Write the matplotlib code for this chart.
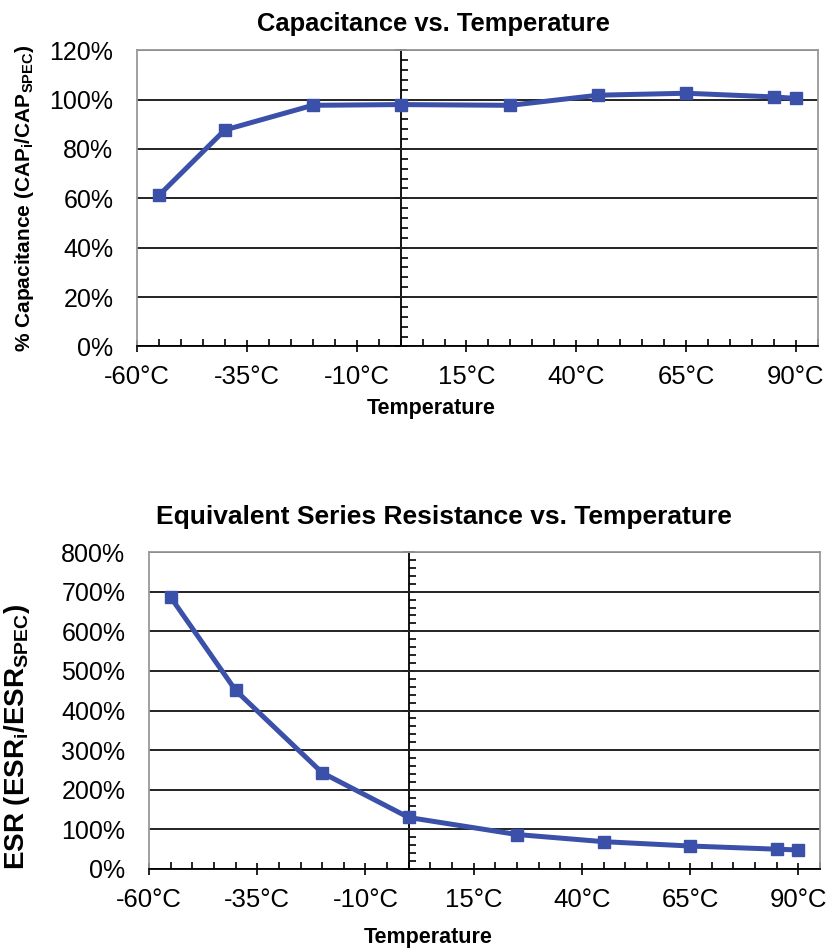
import matplotlib
matplotlib.use("Agg")
import matplotlib.pyplot as plt
from matplotlib.ticker import MultipleLocator, FuncFormatter

plt.rcParams["font.family"] = ["Liberation Sans", "DejaVu Sans"]
plt.rcParams["mathtext.fontset"] = "custom"
plt.rcParams["mathtext.rm"] = "Liberation Sans:bold"
plt.rcParams["mathtext.default"] = "rm"

# data
temps = [-55, -40, -20, 0, 25, 45, 65, 85, 90]
cap_pct = [61.2, 87.7, 97.7, 98.0, 97.7, 101.8, 102.6, 101.1, 100.5]
esr_pct = [686, 451, 243, 130, 87, 69, 58, 50, 48]

x_ticks = [-60, -35, -10, 15, 40, 65, 90]

LINE_COLOR = "#3B50A8"


def style_axis(ax, ymax, ystep, yminor):
    ax.set_xlim(-60, 95)
    ax.set_ylim(0, ymax)
    ax.set_xticks(x_ticks)
    ax.xaxis.set_minor_locator(MultipleLocator(5))
    ax.xaxis.set_major_formatter(FuncFormatter(lambda v, p: f"{v:.0f}°C"))
    ax.yaxis.set_major_locator(MultipleLocator(ystep))
    ax.yaxis.set_major_formatter(FuncFormatter(lambda v, p: f"{v:.0f}%"))
    ax.grid(axis="y", color="#222222", linewidth=1.4)
    ax.set_axisbelow(True)

    for side in ["left", "right", "top"]:
        ax.spines[side].set_color("#999999")
        ax.spines[side].set_linewidth(1.3)
    ax.spines["bottom"].set_color("black")
    ax.spines["bottom"].set_linewidth(1.3)

    ax.tick_params(axis="y", length=0, pad=17, labelsize=18)
    ax.tick_params(axis="x", which="major", direction="inout", length=9,
                   width=1.2, labelsize=18.5, pad=9)
    ax.tick_params(axis="x", which="minor", direction="in", length=5, width=1.2)

    # value axis crossing at 0 degC, like the spreadsheet original
    sec = ax.secondary_yaxis(0, transform=ax.transData)
    sec.spines["left"].set_color("black")
    sec.spines["left"].set_linewidth(1.3)
    sec.yaxis.set_major_locator(MultipleLocator(ystep))
    sec.yaxis.set_minor_locator(MultipleLocator(yminor))
    sec.tick_params(axis="y", which="major", direction="inout", length=9,
                    width=1.2, labelleft=False)
    sec.tick_params(axis="y", which="minor", direction="in", length=5,
                    width=1.2)


fig = plt.figure(figsize=(8.3, 9.49), dpi=100)

ax1 = fig.add_axes([0.165, 0.635, 0.8205, 0.312])
ax1.plot(temps, cap_pct, color=LINE_COLOR, linewidth=3.6, marker="s",
         markersize=8.5, zorder=5, clip_on=False)
style_axis(ax1, 120, 20, 4)
ax1.set_title("Capacitance vs. Temperature", fontsize=18.4,
              fontweight="bold", pad=14, x=0.436)
ax1.set_xlabel("Temperature", fontsize=15.5, fontweight="bold")
ax1.xaxis.set_label_coords(0.432, -0.175)
ax1.set_ylabel(r"% Capacitance (CAP$_{i}$/CAP$_{SPEC}$)", fontsize=15,
               fontweight="bold")
ax1.yaxis.set_label_coords(-0.148, 0.5)

ax2 = fig.add_axes([0.1795, 0.0843, 0.8085, 0.334])
ax2.plot(temps, esr_pct, color=LINE_COLOR, linewidth=3.6, marker="s",
         markersize=8.5, zorder=5, clip_on=False)
style_axis(ax2, 800, 100, 20)
ax2.set_title("Equivalent Series Resistance vs. Temperature", fontsize=19,
              fontweight="bold", pad=20, x=0.44)
ax2.set_xlabel("Temperature", fontsize=15.5, fontweight="bold")
ax2.xaxis.set_label_coords(0.416, -0.182)
ax2.set_ylabel(r"ESR (ESR$_{i}$/ESR$_{SPEC}$)", fontsize=20,
               fontweight="bold")
ax2.yaxis.set_label_coords(-0.174, 0.416)

fig.savefig("out.png", dpi=100)
plt.close(fig)
